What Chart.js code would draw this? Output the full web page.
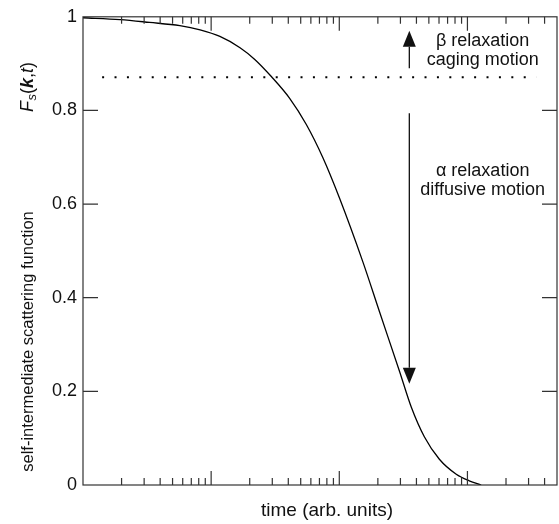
<!DOCTYPE html>
<html>
<head>
<style>
  html, body { margin: 0; padding: 0; background: #fff; }
  #chart { display: block; }
</style>
</head>
<body>
<canvas id="chart" width="559" height="524"></canvas>
<script src="https://cdn.jsdelivr.net/npm/chart.js@4.4.0/dist/chart.umd.min.js"></script>
<script>
// curve (time in arb. units, log axis)
const times = [1, 1.95, 3.3, 5.7, 8.2, 11.7, 16.8, 21.9, 29.6, 41, 55.3, 74.5, 100,
               153, 206, 295, 365, 461, 604, 818, 1033, 1280];
const fsValues = [0.998, 0.994, 0.988, 0.981, 0.972, 0.958, 0.934, 0.909, 0.872, 0.826, 0.770, 0.699, 0.614,
                  0.476, 0.370, 0.243, 0.166, 0.103, 0.055, 0.023, 0.009, 0.0];

// dotted plateau line
const plateauTimes = [1.41, 3440];
const plateauLevel = 0.871;

// axes
const xMin = 1, xMax = 5000;
const xTickValues = [2, 3, 4, 5, 6, 7, 8, 9, 10, 20, 30, 40, 50, 60, 70, 80, 90, 100,
                     200, 300, 400, 500, 600, 700, 800, 900, 1000, 2000, 3000, 4000];
const xMajorTicks = [10, 100, 1000];
const yTickValues = [0, 0.2, 0.4, 0.6, 0.8, 1];
const yTickLabels = ['0', '0.2', '0.4', '0.6', '0.8', '1'];

// annotations (time, value)
const arrowTime = 352;
const upArrow = [0.890, 0.970];
const downArrow = [0.794, 0.216];
const textTime = 1315;
const betaLines = [['\u03b2 relaxation', 0.9386], ['caging motion', 0.898]];
const alphaLines = [['\u03b1 relaxation', 0.661], ['diffusive motion', 0.619]];

const FONT = '"Liberation Sans", Arial, Helvetica, sans-serif';
const INK = '#111';

function arrow(ctx, x, y0, y1) {
    // y0 = tail, y1 = tip (pixels)
    const dir = y1 < y0 ? -1 : 1;
    const headLen = 16, headHalf = 6.5;
    ctx.beginPath();
    ctx.moveTo(x, y0);
    ctx.lineTo(x, y1 - dir * headLen);
    ctx.stroke();
    ctx.beginPath();
    ctx.moveTo(x, y1);
    ctx.lineTo(x - headHalf, y1 - dir * headLen);
    ctx.lineTo(x + headHalf, y1 - dir * headLen);
    ctx.closePath();
    ctx.fill();
}

const framePlugin = {
    id: 'frame',
    afterDatasetsDraw(chart) {
        const {ctx, chartArea: a, scales: {x, y}} = chart;
        ctx.save();
        ctx.strokeStyle = '#333';
        ctx.fillStyle = INK;
        ctx.lineWidth = 1.2;
        ctx.strokeRect(a.left, a.top, a.right - a.left, a.bottom - a.top);

        // inward ticks on all four sides
        ctx.beginPath();
        xTickValues.forEach(v => {
            const px = x.getPixelForValue(v);
            const len = xMajorTicks.includes(v) ? 14 : 7;
            ctx.moveTo(px, a.bottom);
            ctx.lineTo(px, a.bottom - len);
            ctx.moveTo(px, a.top);
            ctx.lineTo(px, a.top + len);
        });
        yTickValues.slice(1, -1).forEach(v => {
            const py = y.getPixelForValue(v);
            ctx.moveTo(a.left, py);
            ctx.lineTo(a.left + 15, py);
            ctx.moveTo(a.right, py);
            ctx.lineTo(a.right - 15, py);
        });
        ctx.stroke();

        // arrows
        ctx.strokeStyle = INK;
        ctx.lineWidth = 1.3;
        const ax = x.getPixelForValue(arrowTime);
        arrow(ctx, ax, y.getPixelForValue(upArrow[0]), y.getPixelForValue(upArrow[1]));
        arrow(ctx, ax, y.getPixelForValue(downArrow[0]), y.getPixelForValue(downArrow[1]));

        // text labels
        ctx.font = '18px ' + FONT;
        ctx.textAlign = 'center';
        ctx.textBaseline = 'alphabetic';
        const tx = x.getPixelForValue(textTime);
        betaLines.concat(alphaLines).forEach(([s, v]) => {
            ctx.fillText(s, tx, y.getPixelForValue(v));
        });

        // x axis title
        ctx.textBaseline = 'middle';
        ctx.font = '19px ' + FONT;
        ctx.fillText('time (arb. units)', 327, 511);

        // rotated y axis title
        ctx.save();
        ctx.translate(28, 341.5);
        ctx.rotate(-Math.PI / 2);
        ctx.textBaseline = 'middle';
        ctx.textAlign = 'center';
        ctx.font = '16.5px ' + FONT;
        ctx.fillText('self-intermediate scattering function', 0, 0);
        ctx.restore();

        ctx.save();
        ctx.translate(28, 112);
        ctx.rotate(-Math.PI / 2);
        ctx.textBaseline = 'middle';
        ctx.textAlign = 'left';
        const parts = [
            ['F', 'italic 18px ' + FONT, 0],
            ['s', 'italic 13px ' + FONT, 4],
            ['(', '18px ' + FONT, 0],
            ['k', 'italic bold 18px ' + FONT, 0],
            [',', '18px ' + FONT, 0],
            ['t', 'italic 18px ' + FONT, 0],
            [')', '18px ' + FONT, 0]
        ];
        let cx = 0;
        parts.forEach(([s, f, dy]) => {
            ctx.font = f;
            ctx.fillText(s, cx, dy);
            cx += ctx.measureText(s).width + (s === 'F' ? 0.5 : 0);
        });
        ctx.restore();

        ctx.restore();
    }
};

new Chart(document.getElementById('chart'), {
    type: 'line',
    data: {
        datasets: [
            {
                data: times.map((t, i) => ({x: t, y: fsValues[i]})),
                borderColor: '#000',
                borderWidth: 1.3,
                pointRadius: 0,
                fill: false,
                cubicInterpolationMode: 'monotone'
            },
            {
                data: plateauTimes.map(t => ({x: t, y: plateauLevel})),
                borderColor: '#000',
                borderWidth: 2,
                borderDash: [2, 10.4],
                pointRadius: 0,
                fill: false
            }
        ]
    },
    options: {
        responsive: false,
        animation: false,
        devicePixelRatio: 1,
        layout: {padding: {top: 13, right: 2, left: 0, bottom: 0}},
        plugins: {legend: {display: false}, tooltip: {enabled: false}},
        scales: {
            x: {
                type: 'logarithmic',
                min: xMin,
                max: xMax,
                grid: {display: false, drawTicks: false},
                border: {display: false},
                ticks: {display: false},
                afterFit(scale) { scale.height = 39; }
            },
            y: {
                min: 0,
                max: 1,
                grid: {display: false, drawTicks: false},
                border: {display: false},
                afterBuildTicks(scale) {
                    scale.ticks = yTickValues.map(v => ({value: v}));
                },
                ticks: {
                    color: INK,
                    padding: 6,
                    font: {family: FONT, size: 18},
                    callback: (v) => yTickLabels[yTickValues.indexOf(v)] ?? ''
                },
                afterFit(scale) { scale.width = 83; }
            }
        }
    },
    plugins: [framePlugin]
});
</script>
</body>
</html>
